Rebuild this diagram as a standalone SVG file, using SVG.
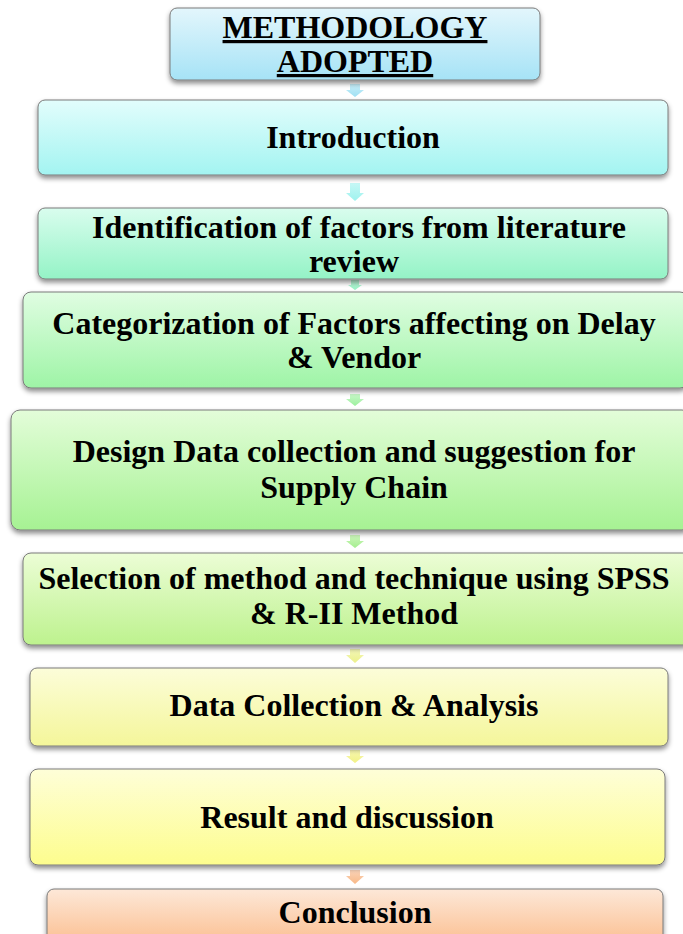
<svg xmlns="http://www.w3.org/2000/svg" width="683" height="934" viewBox="0 0 683 934">
<defs>
<filter id="sh" x="-5%" y="-10%" width="110%" height="130%">
<feDropShadow dx="0" dy="3" stdDeviation="2.5" flood-color="#000" flood-opacity="0.45"/>
</filter>
<linearGradient id="g1" x1="0" y1="0" x2="0" y2="1"><stop offset="0" stop-color="#e3f6fc"/><stop offset="1" stop-color="#a6e3f6"/></linearGradient>
<linearGradient id="g2" x1="0" y1="0" x2="0" y2="1"><stop offset="0" stop-color="#e2fdfc"/><stop offset="1" stop-color="#a3f4f1"/></linearGradient>
<linearGradient id="g3" x1="0" y1="0" x2="0" y2="1"><stop offset="0" stop-color="#d9fdee"/><stop offset="1" stop-color="#94f3c6"/></linearGradient>
<linearGradient id="g4" x1="0" y1="0" x2="0" y2="1"><stop offset="0" stop-color="#e0fde2"/><stop offset="1" stop-color="#9ef4a6"/></linearGradient>
<linearGradient id="g5" x1="0" y1="0" x2="0" y2="1"><stop offset="0" stop-color="#e3fdd9"/><stop offset="1" stop-color="#a6f293"/></linearGradient>
<linearGradient id="g6" x1="0" y1="0" x2="0" y2="1"><stop offset="0" stop-color="#ecfdd6"/><stop offset="1" stop-color="#bdf28e"/></linearGradient>
<linearGradient id="g7" x1="0" y1="0" x2="0" y2="1"><stop offset="0" stop-color="#fcfdd9"/><stop offset="1" stop-color="#f4f69a"/></linearGradient>
<linearGradient id="g8" x1="0" y1="0" x2="0" y2="1"><stop offset="0" stop-color="#fefed8"/><stop offset="1" stop-color="#fdfd8e"/></linearGradient>
<linearGradient id="g9" x1="0" y1="0" x2="0" y2="1"><stop offset="0" stop-color="#fde8d8"/><stop offset="1" stop-color="#fbbb8a"/></linearGradient>
<linearGradient id="a1" x1="0" y1="0" x2="0" y2="1"><stop offset="0" stop-color="#c8eef9"/><stop offset="1" stop-color="#9fe0f3"/></linearGradient>
<linearGradient id="a2" x1="0" y1="0" x2="0" y2="1"><stop offset="0" stop-color="#c6f8f6"/><stop offset="1" stop-color="#9ef2ee"/></linearGradient>
<linearGradient id="a3" x1="0" y1="0" x2="0" y2="1"><stop offset="0" stop-color="#c2f8dc"/><stop offset="1" stop-color="#96f1c4"/></linearGradient>
<linearGradient id="a4" x1="0" y1="0" x2="0" y2="1"><stop offset="0" stop-color="#c8f8c8"/><stop offset="1" stop-color="#9cf09e"/></linearGradient>
<linearGradient id="a5" x1="0" y1="0" x2="0" y2="1"><stop offset="0" stop-color="#cdf6bc"/><stop offset="1" stop-color="#a4ee8e"/></linearGradient>
<linearGradient id="a6" x1="0" y1="0" x2="0" y2="1"><stop offset="0" stop-color="#f4f7b8"/><stop offset="1" stop-color="#ecf08a"/></linearGradient>
<linearGradient id="a7" x1="0" y1="0" x2="0" y2="1"><stop offset="0" stop-color="#f7f7b0"/><stop offset="1" stop-color="#f2f286"/></linearGradient>
<linearGradient id="a8" x1="0" y1="0" x2="0" y2="1"><stop offset="0" stop-color="#fad3b8"/><stop offset="1" stop-color="#f8b988"/></linearGradient>
</defs>
<style>
.box{stroke:#7a7a7a;stroke-width:1;filter:url(#sh)}
.t{font-family:"Liberation Serif","Times New Roman",serif;font-weight:bold;font-size:32px;fill:#000;text-anchor:middle}
.h{text-decoration:underline}
</style>
<g id="connectors">
<path d="M350 84h10v6h4l-9 7l-9-7h4z" fill="url(#a1)"/>
<path d="M350 183h10v10h4l-9 8l-9-8h4z" fill="url(#a2)"/>
<path d="M351 280h8v5h3l-7 5l-7-5h3z" fill="url(#a3)"/>
<path d="M350 394h10v5h4l-9 7l-9-7h4z" fill="url(#a4)"/>
<path d="M350 535h10v6h4l-9 7l-9-7h4z" fill="url(#a5)"/>
<path d="M350 649h10v6h4l-9 8l-9-8h4z" fill="url(#a6)"/>
<path d="M350 750h10v6h4l-9 7l-9-7h4z" fill="url(#a7)"/>
<path d="M350 870h10v6h4l-9 8l-9-8h4z" fill="url(#a8)"/>
</g>
<g id="n1"><rect class="box" x="170" y="8" width="370" height="72" rx="7" fill="url(#g1)"/>
<text class="t h" x="355" y="38">METHODOLOGY</text><text class="t h" x="355" y="72">ADOPTED</text></g>
<g id="n2"><rect class="box" x="38" y="100" width="630" height="75" rx="7" fill="url(#g2)"/>
<text class="t" x="353" y="148">Introduction</text></g>
<g id="n3"><rect class="box" x="38" y="208" width="630" height="71" rx="7" fill="url(#g3)"/>
<text class="t" x="359" y="238">Identification of factors from literature</text><text class="t" x="354" y="272">review</text></g>
<g id="n4"><rect class="box" x="23" y="292" width="665" height="96" rx="8" fill="url(#g4)"/>
<text class="t" x="354" y="334">Categorization of Factors affecting on Delay</text><text class="t" x="354" y="368">&amp; Vendor</text></g>
<g id="n5"><rect class="box" x="11" y="410" width="680" height="120" rx="9" fill="url(#g5)"/>
<text class="t" x="354" y="462">Design Data collection and suggestion for</text><text class="t" x="354" y="498">Supply Chain</text></g>
<g id="n6"><rect class="box" x="23" y="553" width="668" height="92" rx="8" fill="url(#g6)"/>
<text class="t" x="354" y="589">Selection of method and technique using SPSS</text><text class="t" x="354" y="624">&amp; R-II Method</text></g>
<g id="n7"><rect class="box" x="30" y="668" width="638" height="78" rx="7" fill="url(#g7)"/>
<text class="t" x="354" y="716">Data Collection &amp; Analysis</text></g>
<g id="n8"><rect class="box" x="30" y="769" width="635" height="96" rx="8" fill="url(#g8)"/>
<text class="t" x="347" y="828">Result and discussion</text></g>
<g id="n9"><rect class="box" x="47" y="889" width="616" height="60" rx="7" fill="url(#g9)"/>
<text class="t" x="355" y="923">Conclusion</text></g>
</svg>
